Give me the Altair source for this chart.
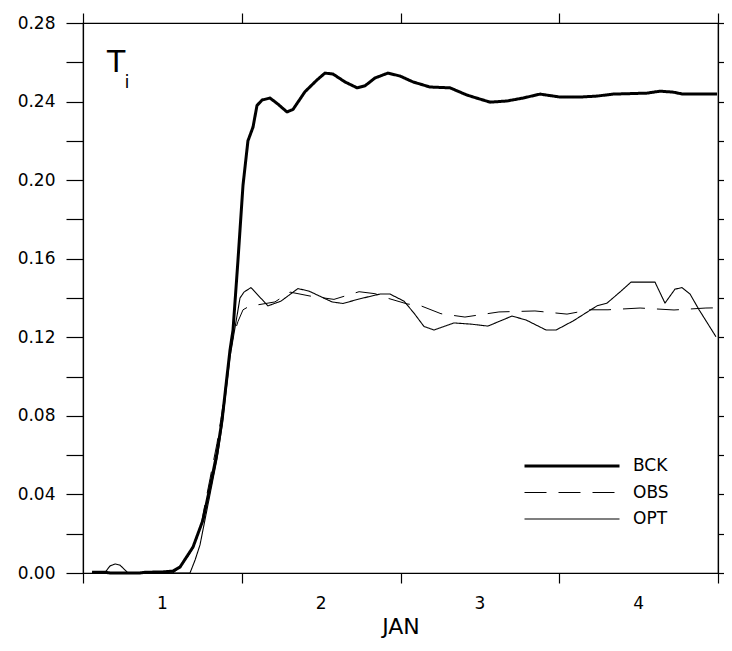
import altair as alt
import pandas as pd

# ---- data (x in days since 1 JAN 00Z, value of T_i) ----
series_order = ["BCK", "OBS", "OPT"]

bck_day = [0.057, 0.139, 0.170, 0.359, 0.391, 0.498, 0.567, 0.611, 0.693, 0.756,
           0.800, 0.844, 0.876, 0.926, 0.945, 0.976, 1.008, 1.039, 1.071, 1.096,
           1.128, 1.178, 1.228, 1.285, 1.323, 1.398, 1.474, 1.524, 1.575, 1.650,
           1.726, 1.776, 1.839, 1.921, 1.997, 2.079, 2.186, 2.312, 2.419, 2.564,
           2.671, 2.772, 2.879, 3.005, 3.131, 3.238, 3.339, 3.553, 3.635, 3.717,
           3.780, 3.887, 3.994]
bck_val = [0.0004, 0.0004, 0.0, 0.0, 0.0004, 0.0005, 0.001, 0.003, 0.0132, 0.027,
           0.0438, 0.061, 0.0779, 0.1135, 0.1237, 0.159, 0.1975, 0.220, 0.227, 0.238,
           0.2408, 0.2418, 0.2387, 0.2347, 0.236, 0.245, 0.251, 0.2545, 0.254, 0.250,
           0.247, 0.248, 0.252, 0.2545, 0.253, 0.250, 0.2474, 0.247, 0.2433, 0.2397,
           0.2403, 0.2418, 0.2438, 0.2423, 0.2423, 0.2428, 0.2438, 0.2443, 0.2453, 0.2448,
           0.2438, 0.2438, 0.2438]

obs_day = [0.057, 0.567, 0.611, 0.655, 0.693, 0.737, 0.800, 0.844, 0.876, 0.926,
           0.945, 0.976, 1.008, 1.052, 1.115, 1.209, 1.304, 1.430, 1.581, 1.739,
           1.839, 1.915, 2.041, 2.129, 2.255, 2.406, 2.620, 2.847, 3.049, 3.194,
           3.307, 3.509, 3.723, 3.924, 3.994]
obs_val = [0.0, 0.0, 0.003, 0.0076, 0.0127, 0.022, 0.048, 0.066, 0.082, 0.112,
           0.120, 0.128, 0.134, 0.136, 0.1367, 0.138, 0.143, 0.141, 0.1393, 0.1432,
           0.1422, 0.140, 0.137, 0.136, 0.132, 0.1303, 0.1329, 0.1334, 0.1318, 0.134,
           0.134, 0.1349, 0.1339, 0.1349, 0.135]

opt_day = [0.057, 0.139, 0.170, 0.202, 0.233, 0.265, 0.283, 0.674, 0.706, 0.737,
           0.800, 0.844, 0.876, 0.926, 0.964, 0.989, 1.014, 1.058, 1.165, 1.247,
           1.354, 1.424, 1.569, 1.638, 1.739, 1.871, 1.934, 2.022, 2.085, 2.148,
           2.211, 2.337, 2.444, 2.551, 2.702, 2.791, 2.917, 2.980, 3.087, 3.238,
           3.301, 3.389, 3.452, 3.603, 3.666, 3.729, 3.773, 3.824, 3.880, 3.987]
opt_val = [0.0, 0.0003, 0.0036, 0.0046, 0.004, 0.0015, 0.0, 0.0, 0.0066, 0.0143,
           0.040, 0.058, 0.075, 0.110, 0.128, 0.140, 0.143, 0.1453, 0.136, 0.1384,
           0.1448, 0.1435, 0.138, 0.1372, 0.1395, 0.142, 0.142, 0.1384, 0.1323, 0.1255,
           0.1237, 0.1273, 0.1267, 0.1257, 0.1308, 0.1288, 0.1237, 0.1237, 0.1283, 0.136,
           0.1374, 0.1435, 0.1481, 0.1481, 0.1374, 0.1445, 0.1453, 0.142, 0.1341, 0.1203]

x_ticks = [0, 1, 2, 3, 4]
y_ticks = [0.0, 0.02, 0.04, 0.06, 0.08, 0.10, 0.12, 0.14, 0.16, 0.18, 0.20, 0.22, 0.24, 0.26, 0.28]

rows = []
for name, ds, vs in [("BCK", bck_day, bck_val), ("OBS", obs_day, obs_val), ("OPT", opt_day, opt_val)]:
    for d, v in zip(ds, vs):
        rows.append({"series": name, "day": d, "value": v})
df = pd.DataFrame(rows)

FONT = "DejaVu Sans"

xscale = alt.Scale(domain=[0, 4], nice=False, zero=False)
yscale = alt.Scale(domain=[0, 0.28], nice=False, zero=False)

label_expr_x = "datum.value < 4 ? format(datum.value + 1, 'd') : ''"
label_expr_y = "round(datum.value * 100) % 4 == 0 ? format(datum.value, '.2f') : ''"

legend_kw = dict(
    orient="none", legendX=440, legendY=433, title=None,
    symbolType="stroke", symbolSize=9025, clipHeight=20, rowPadding=6.5,
    labelOffset=12, labelFontSize=17, labelFont=FONT, labelColor="black",
    symbolStrokeColor="black", padding=0,
)

lines = alt.Chart(df).mark_line(color="black", strokeJoin="round").encode(
    x=alt.X("day:Q", scale=xscale,
            axis=alt.Axis(orient="bottom", values=x_ticks, labelExpr=label_expr_x,
                          labelOffset=79, labelFlush=False, labelOverlap=False,
                          tickSize=10, labelPadding=12, labelFontSize=17,
                          title="JAN", titleFontSize=22, titleFontWeight="normal",
                          titlePadding=5, grid=False)),
    y=alt.Y("value:Q", scale=yscale,
            axis=alt.Axis(orient="left", values=y_ticks, labelExpr=label_expr_y,
                          tickSize=17, labelPadding=11, labelFontSize=17,
                          labelOverlap=False, labelFlush=False, title=None, grid=False)),
    strokeDash=alt.StrokeDash("series:N",
                              scale=alt.Scale(domain=series_order, range=[[1, 0], [22, 12], [1, 0]]),
                              legend=alt.Legend(**legend_kw)),
    strokeWidth=alt.StrokeWidth("series:N",
                                scale=alt.Scale(type="ordinal", domain=series_order, range=[3.0, 1.0, 1.1]),
                                legend=alt.Legend(**legend_kw)),
)

# annotation "T" with subscript "i"
ann_T = pd.DataFrame({"day": [0.151], "value": [0.255], "txt": ["T"]})
ann_i = pd.DataFrame({"day": [0.262], "value": [0.2470], "txt": ["i"]})

t_layer = alt.Chart(ann_T).mark_text(font=FONT, fontSize=30, align="left", baseline="alphabetic",
                                     color="black").encode(
    x=alt.X("day:Q", scale=xscale,
            axis=alt.Axis(orient="top", values=x_ticks, labels=False, tickSize=10,
                          title=None, grid=False)),
    y=alt.Y("value:Q", scale=yscale,
            axis=alt.Axis(orient="right", values=y_ticks, labels=False, tickSize=14,
                          title=None, grid=False)),
    text="txt:N",
)
i_layer = alt.Chart(ann_i).mark_text(font=FONT, fontSize=18, align="left", baseline="alphabetic",
                                     color="black").encode(
    x=alt.X("day:Q", scale=xscale, axis=None),
    y=alt.Y("value:Q", scale=yscale, axis=None),
    text="txt:N",
)

chart = alt.layer(lines, t_layer, i_layer).resolve_axis(
    x="independent", y="independent"
).properties(
    width=635, height=550,
    padding={"left": 75, "top": 15, "right": 6, "bottom": 70},
    autosize=alt.AutoSizeParams(type="none"),
    background="white",
).configure_view(
    stroke="black", strokeWidth=1.2
).configure_axis(
    domainColor="black", tickColor="black", domainWidth=1.2, tickWidth=1.2,
    labelColor="black", titleColor="black", labelFont=FONT, titleFont=FONT,
)

chart.save("out.html", embed_options={"renderer": "svg", "actions": False})
